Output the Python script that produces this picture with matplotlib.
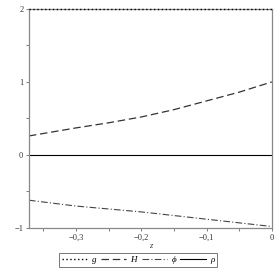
import matplotlib
matplotlib.use("Agg")
import matplotlib.pyplot as plt
import matplotlib.ticker as ticker

# values
z = [-0.372, -0.3, -0.25, -0.2, -0.15, -0.1, -0.05, 0.0]
H = [0.26, 0.37, 0.44, 0.52, 0.62, 0.74, 0.86, 1.0]
phi = [-0.62, -0.70, -0.74, -0.78, -0.83, -0.88, -0.93, -0.98]
g = [2.0] * len(z)
rho = [0.0] * len(z)

xticks = [-0.3, -0.2, -0.1, 0.0]
xtick_labels = ['\u22120,3', '\u22120,2', '\u22120,1', '0']
yticks = [-1, 0, 1, 2]
ytick_labels = ['\u22121', '0', '1', '2']

plt.rcParams['font.family'] = ['Liberation Serif', 'DejaVu Serif']

fig = plt.figure(figsize=(2.78, 2.78), dpi=100)
ax = fig.add_axes([0.104, 0.18, 0.874, 0.788])

ax.plot(z, g, color='black', linestyle=(0, (1, 1.8)), linewidth=1.0, label='g',
        clip_on=False, zorder=5)
ax.plot(z, H, color='#333333', linestyle=(0, (6, 3)), linewidth=0.9, label='H')
ax.plot(z, phi, color='#444444', linestyle=(0, (6, 2, 1, 2)), linewidth=0.8, label='\u03d5')
ax.plot(z, rho, color='black', linestyle='-', linewidth=0.8, label='\u03c1')

ax.set_xlim(-0.372, 0.0)
ax.set_ylim(-1.0, 2.0)

ax.set_xticks(xticks)
ax.set_xticklabels(xtick_labels)
ax.xaxis.set_minor_locator(ticker.FixedLocator([-0.35, -0.25, -0.15, -0.05]))
ax.set_yticks(yticks)
ax.set_yticklabels(ytick_labels)
ax.yaxis.set_minor_locator(ticker.FixedLocator([-0.5, 0.5, 1.5]))

ax.tick_params(which='both', direction='out', length=2.5, width=0.6,
               color='#666666', labelsize=6, labelcolor='#333333', pad=1.5)
for s in ax.spines.values():
    s.set_color('#888888')
    s.set_linewidth(0.9)

ax.set_xlabel('z', fontsize=6, style='italic', labelpad=0, color='#333333')

leg = ax.legend(loc='upper center', bbox_to_anchor=(0.45, -0.115), ncol=4,
                fontsize=6.5, frameon=True, fancybox=False, handlelength=2.8,
                handletextpad=0.5, columnspacing=0.5, borderpad=0.3,
                borderaxespad=0)
leg.get_frame().set_edgecolor('#555555')
leg.get_frame().set_linewidth(0.7)
for t in leg.get_texts():
    t.set_style('italic')

fig.savefig('out.png', dpi=100)
